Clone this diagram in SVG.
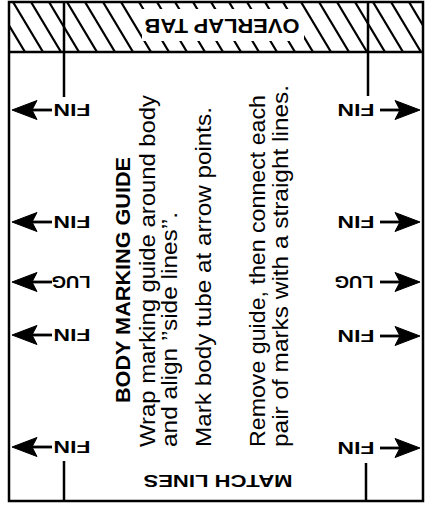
<svg xmlns="http://www.w3.org/2000/svg" width="425" height="505" viewBox="0 0 425 505">
<style>
.ln{stroke:#000;stroke-width:2.5;fill:none}
.ht{stroke:#000;stroke-width:2.2;fill:none}
.lab{font-family:"Liberation Sans",Arial,sans-serif;font-weight:bold;font-size:17px;fill:#000;text-anchor:middle}
.big{font-family:"Liberation Sans",Arial,sans-serif;font-weight:bold;fill:#000;text-anchor:middle}
.body{font-family:"Liberation Sans",Arial,sans-serif;font-size:21.5px;fill:#000}
.head{font-family:"Liberation Sans",Arial,sans-serif;font-size:19.5px;font-weight:bold;fill:#000}
</style>
<defs>
<clipPath id="bandclip"><rect x="9" y="2" width="414" height="50"/></clipPath>
<g id="arrow"><polygon points="1,0 26,-9.5 21,0 26,9.5" fill="#000" stroke="#000" stroke-width="1"/><line x1="18" y1="0" x2="41" y2="0" stroke="#000" stroke-width="2.8"/></g>
</defs>
<rect width="425" height="505" fill="#fff"/>

<g id="overlap-tab">
<g clip-path="url(#bandclip)">
<path class="ht" d="M-23 2 l30 50 M-5 2 l30 50 M13 2 l30 50 M31 2 l30 50 M49 2 l30 50 M67 2 l30 50 M85 2 l30 50 M103 2 l30 50 M121 2 l30 50 M139 2 l30 50 M157 2 l30 50 M175 2 l30 50 M193 2 l30 50 M211 2 l30 50 M229 2 l30 50 M247 2 l30 50 M265 2 l30 50 M283 2 l30 50 M301 2 l30 50 M319 2 l30 50 M337 2 l30 50 M355 2 l30 50 M373 2 l30 50 M391 2 l30 50 M409 2 l30 50"/>
</g>
<rect x="142" y="9" width="162" height="32" fill="#fff"/>
<text class="big" x="222" y="19" font-size="21" textLength="155" lengthAdjust="spacingAndGlyphs" transform="rotate(180 222 19)">OVERLAP TAB</text>
</g>

<g id="frame">
<rect class="ln" x="9" y="2" width="414" height="499"/>
<line class="ln" x1="9" y1="52" x2="423" y2="52"/>
<line class="ln" x1="64" y1="2" x2="64" y2="97"/>
<line class="ln" x1="368" y1="2" x2="368" y2="96"/>
<line class="ln" x1="64" y1="461" x2="64" y2="501"/>
<line class="ln" x1="366" y1="463" x2="366" y2="501"/>
</g>

<g id="connectors">
<use href="#arrow" transform="translate(11,110)"/>
<use href="#arrow" transform="translate(11,222)"/>
<use href="#arrow" transform="translate(11,282)"/>
<use href="#arrow" transform="translate(11,335)"/>
<use href="#arrow" transform="translate(11,447)"/>
<use href="#arrow" transform="translate(421,110) scale(-1,1)"/>
<use href="#arrow" transform="translate(421,222) scale(-1,1)"/>
<use href="#arrow" transform="translate(421,282) scale(-1,1)"/>
<use href="#arrow" transform="translate(421,336) scale(-1,1)"/>
<use href="#arrow" transform="translate(421,448) scale(-1,1)"/>
</g>

<g id="left-labels">
<text class="lab" x="72" y="104" textLength="37" lengthAdjust="spacingAndGlyphs" transform="rotate(180 72 104)">FIN</text>
<text class="lab" x="72" y="216" textLength="37" lengthAdjust="spacingAndGlyphs" transform="rotate(180 72 216)">FIN</text>
<text class="lab" x="71" y="276" textLength="39" lengthAdjust="spacingAndGlyphs" transform="rotate(180 71 276)">LUG</text>
<text class="lab" x="72" y="329" textLength="37" lengthAdjust="spacingAndGlyphs" transform="rotate(180 72 329)">FIN</text>
<text class="lab" x="72" y="441" textLength="37" lengthAdjust="spacingAndGlyphs" transform="rotate(180 72 441)">FIN</text>
</g>

<g id="right-labels">
<text class="lab" x="356" y="104" textLength="37" lengthAdjust="spacingAndGlyphs" transform="rotate(180 356 104)">FIN</text>
<text class="lab" x="356" y="216" textLength="37" lengthAdjust="spacingAndGlyphs" transform="rotate(180 356 216)">FIN</text>
<text class="lab" x="354" y="276" textLength="39" lengthAdjust="spacingAndGlyphs" transform="rotate(180 354 276)">LUG</text>
<text class="lab" x="356" y="330" textLength="37" lengthAdjust="spacingAndGlyphs" transform="rotate(180 356 330)">FIN</text>
<text class="lab" x="356" y="442" textLength="37" lengthAdjust="spacingAndGlyphs" transform="rotate(180 356 442)">FIN</text>
</g>

<g id="instructions">
<text class="head" transform="translate(130,403) rotate(-90)" textLength="246" lengthAdjust="spacingAndGlyphs">BODY MARKING GUIDE</text>
<text class="body" transform="translate(155,447) rotate(-90)" textLength="352" lengthAdjust="spacingAndGlyphs">Wrap marking guide around body</text>
<text class="body" transform="translate(177,447) rotate(-90)" textLength="235" lengthAdjust="spacingAndGlyphs">and align ’’side lines’’.</text>
<text class="body" transform="translate(211,447) rotate(-90)" textLength="340" lengthAdjust="spacingAndGlyphs">Mark body tube at arrow points.</text>
<text class="body" transform="translate(265,447) rotate(-90)" textLength="352" lengthAdjust="spacingAndGlyphs">Remove guide, then connect each</text>
<text class="body" transform="translate(288,447) rotate(-90)" textLength="362" lengthAdjust="spacingAndGlyphs">pair of marks with a straight lines.</text>
</g>

<g id="match-lines">
<text class="big" x="218" y="475" font-size="17" textLength="149" lengthAdjust="spacingAndGlyphs" transform="rotate(180 218 475)">MATCH LINES</text>
</g>
</svg>
